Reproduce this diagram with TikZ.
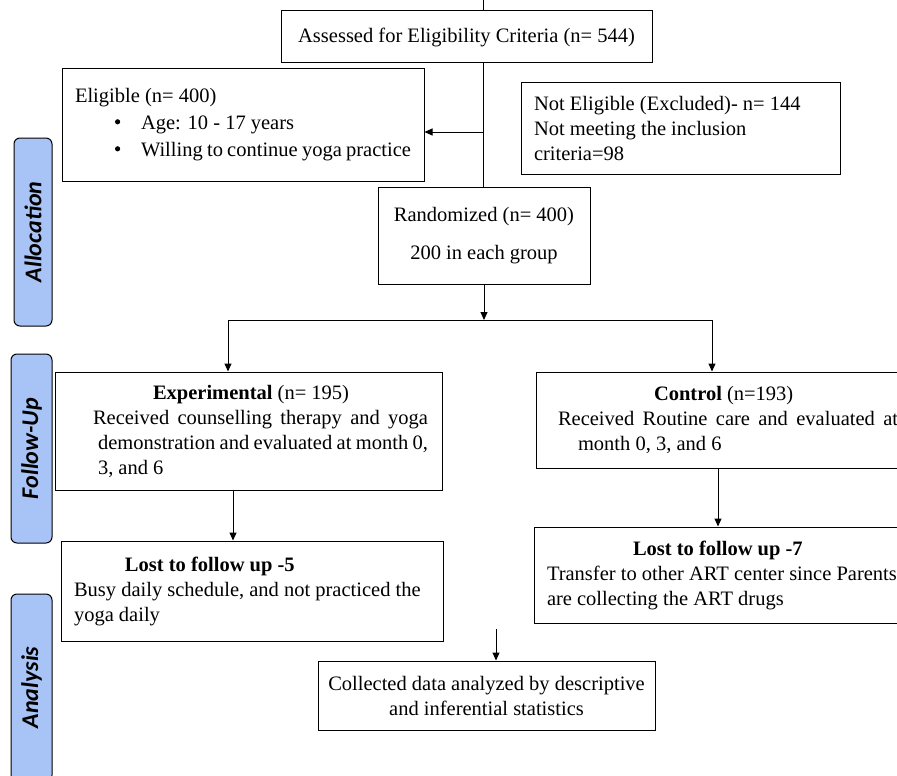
\documentclass[tikz,border=0pt]{standalone}
\usepackage{fontspec}
\setmainfont{Liberation Serif}
\newfontfamily\labelfont{Carlito}
\usetikzlibrary{arrows.meta}
\definecolor{phaseblue}{RGB}{168,196,246}
\newcommand{\bigbul}{\makebox[26pt][l]{\raisebox{5.5pt}{\tikz\fill (0,0) circle (2.6pt);}}}
\begin{document}
\begin{tikzpicture}[x=1pt,y=-1pt,
  font=\fontsize{20.5}{25}\selectfont,
  box/.style={draw, line width=1pt, inner sep=0pt},
  arr/.style={-{Triangle[length=8pt,width=7pt]}, line width=1pt},
  ln/.style={line width=1pt},
  phase/.style={draw, line width=1pt, rounded corners=6pt, fill=phaseblue, inner sep=0pt, rotate=90,
    font=\labelfont\bfseries\itshape\fontsize{24}{28}\selectfont},
]
\clip (0,0) rectangle (897,776);

% phase labels
\node[phase, minimum width=188pt, minimum height=38pt] (alloc) at (33,232) {Allocation};
\node[phase, minimum width=189pt, minimum height=41pt] (follow) at (31.5,448.5) {Follow-Up};
\node[phase, minimum width=187pt, minimum height=41pt] (anal) at (31.5,687.5) {Analysis};

% boxes
\node[box, minimum width=371pt, minimum height=52pt] (assess) at (466.5,37) {Assessed for Eligibility Criteria (n= 544)};

\node[box, minimum width=362pt, minimum height=112pt] (elig) at (243,125)
  {\parbox{336pt}{\fontsize{20.5}{27}\selectfont Eligible (n= 400)\\
   \hspace*{40pt}\bigbul Age: 10 - 17 years\\
   \hspace*{40pt}\bigbul Willing to continue yoga practice}};

\node[box, minimum width=319pt, minimum height=91pt] (notelig) at (680.5,128.5)
  {\parbox{293pt}{Not Eligible (Excluded)- n= 144\\Not meeting the inclusion\\criteria=98}};

\node[box, minimum width=212pt, minimum height=97pt] (rand) at (484,235.5)
  {\parbox{200pt}{\centering Randomized (n= 400)\\[13pt]200 in each group}};

\node[box, minimum width=387pt, minimum height=118pt] (exp) at (248.5,431)
  {\hspace*{24pt}\parbox{335pt}{\hspace*{60pt}\textbf{Experimental} (n= 195)\par
   \hangindent=5pt\hangafter=1 Received counselling therapy and yoga\linebreak
   demonstration and evaluated at month 0,\linebreak 3, and 6}};

\node[box, minimum width=372pt, minimum height=96pt] (ctrl) at (722,420)
  {\hspace*{12pt}\parbox{340pt}{\hspace*{96pt}\textbf{Control} (n=193)\par
   \hangindent=20pt\hangafter=1 Received Routine care and evaluated at\linebreak
   month 0, 3, and 6}};

\node[box, minimum width=382pt, minimum height=100pt] (lost5) at (252,591)
  {\parbox{356pt}{\hspace*{51pt}\textbf{Lost to follow up -5}\\
   Busy daily schedule, and not practiced the\\yoga daily}};

\node[box, minimum width=366pt, minimum height=96pt] (lost7) at (717,575)
  {\hspace*{10pt}\parbox{350pt}{\hspace*{86pt}\textbf{Lost to follow up -7}\\
   Transfer to other ART center since Parents\\are collecting the ART drugs}};

\node[box, minimum width=337pt, minimum height=69pt] (coll) at (486.5,695.5)
  {\parbox{330pt}{\centering Collected data analyzed by descriptive\\and inferential statistics}};

% connectors
\coordinate (top) at (483,0);
\draw[ln] (top) -- (top |- assess.north);
\draw[ln] (top |- assess.south) -- (top |- rand.north);
\coordinate (j1) at (483,132);
\draw[arr] (j1) -- (elig.east |- j1);
\coordinate (split) at (484,320);
\draw[arr] (rand.south) -- (split);
\coordinate (sl) at (228,320);
\coordinate (sr) at (712,320);
\draw[ln] (sl) -- (sr);
\draw[arr] (sl) -- (sl |- exp.north);
\draw[arr] (sr) -- (sr |- ctrl.north);
\coordinate (c5) at (233,500);
\draw[arr] (c5 |- exp.south) -- (c5 |- lost5.north);
\coordinate (c7) at (718,500);
\draw[arr] (c7 |- ctrl.south) -- (c7 |- lost7.north);
\coordinate (fa) at (496,629);
\draw[arr] (fa) -- (fa |- coll.north);
\end{tikzpicture}
\end{document}
